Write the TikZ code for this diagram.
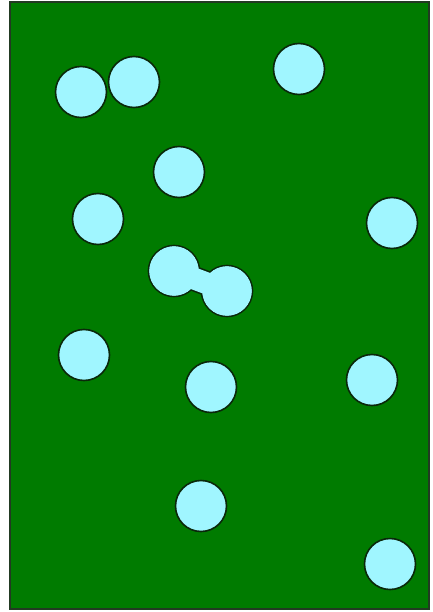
\documentclass[tikz,border=0pt]{standalone}
\usepackage{tikz}
\definecolor{field}{RGB}{0,123,0}
\definecolor{ball}{RGB}{160,246,255}
\definecolor{rim}{RGB}{10,40,10}
\tikzset{
  ballrim/.style={draw=rim, line width=1.6pt, fill=ball},
  ballfill/.style={fill=ball},
}
\begin{document}
\begin{tikzpicture}[x=1pt,y=-1pt]
\useasboundingbox (0,0) rectangle (432,612);
\fill[white] (0,0) rectangle (432,612);
\draw[fill=field, draw=rim!80!gray, line width=1.8pt] (10,2) rectangle (429,609);
\def\R{25.5}
% single balls
\foreach \x/\y in {81/92, 134/82, 299/69, 179/172, 98/219, 392/223, 84/355, 211/387, 372/380, 201/506, 390/564}{
  \draw[ballrim] (\x,\y) circle (\R);
}
% merged pair
\coordinate (p1) at (174,271);
\coordinate (p2) at (227,291);
\draw[rim, line width=25pt] (p1) -- (p2);
\draw[ballrim] (p1) circle (\R);
\draw[ballrim] (p2) circle (\R);
\fill[ballfill] (p1) circle (\R-0.8);
\fill[ballfill] (p2) circle (\R-0.8);
\draw[ball, line width=21.8pt] (p1) -- (p2);
\end{tikzpicture}
\end{document}
